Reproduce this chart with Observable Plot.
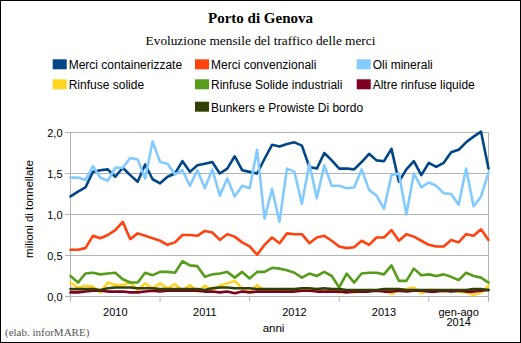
<!DOCTYPE html>
<html>
<head>
<meta charset="utf-8">
<script src="https://cdn.jsdelivr.net/npm/d3@7"></script>
<script src="https://cdn.jsdelivr.net/npm/@observablehq/plot@0.6"></script>
<style>
  body { margin: 0; background: #fff; }
  #wrap { position: relative; width: 521px; height: 343px; overflow: hidden; background: #fff; }
  #wrap > svg { position: absolute; left: 0; top: 0; }
  #border { position: absolute; left: 0; top: 0; width: 519px; height: 341px; border: 1px solid #000; pointer-events: none; }
</style>
</head>
<body>
<div id="wrap"><div id="border"></div></div>
<script>
// ---- Data (million tonnes per month, Jan 2010 .. Aug 2014 category positions) ----
const seriesNames = [
  "Merci containerizzate", "Merci convenzionali", "Oli minerali",
  "Rinfuse solide", "Rinfuse Solide industriali", "Altre rinfuse liquide",
  "Bunkers e Prowiste Di bordo"
];
const seriesColors = ["#004586", "#ff420e", "#83caff", "#ffd320", "#579d1c", "#7e0021", "#314004"];

const merciContainerizzate = [1.22,1.28,1.33,1.52,1.54,1.55,1.46,1.57,1.48,1.40,1.61,1.43,1.38,1.46,1.50,1.65,1.52,1.60,1.62,1.64,1.50,1.56,1.71,1.54,1.52,1.50,1.68,1.85,1.83,1.86,1.88,1.84,1.58,1.56,1.75,1.66,1.56,1.56,1.55,1.64,1.74,1.66,1.65,1.80,1.40,1.55,1.65,1.48,1.63,1.58,1.63,1.76,1.79,1.88,1.95,2.01,1.56];
const merciConvenzionali = [0.57,0.57,0.59,0.74,0.71,0.75,0.81,0.91,0.70,0.77,0.74,0.71,0.68,0.63,0.66,0.75,0.75,0.74,0.80,0.78,0.69,0.76,0.73,0.66,0.61,0.51,0.63,0.72,0.65,0.77,0.76,0.76,0.65,0.72,0.74,0.68,0.61,0.59,0.60,0.68,0.63,0.72,0.72,0.81,0.68,0.76,0.73,0.68,0.63,0.61,0.61,0.69,0.66,0.76,0.74,0.82,0.69];
const oliMinerali = [1.45,1.45,1.42,1.59,1.45,1.41,1.57,1.57,1.69,1.67,1.44,1.89,1.64,1.62,1.49,1.54,1.35,1.54,1.32,1.55,1.23,1.44,1.22,1.35,1.32,1.79,0.95,1.31,0.91,1.56,1.52,1.13,1.62,1.20,1.60,1.35,1.35,1.32,1.33,1.55,1.30,1.23,1.07,1.48,1.50,1.00,1.50,1.33,1.39,1.35,1.26,1.25,1.12,1.56,1.10,1.22,1.51];
const rinfuseSolide = [0.17,0.11,0.13,0.12,0.05,0.17,0.14,0.14,0.17,0.08,0.16,0.10,0.16,0.10,0.15,0.07,0.14,0.06,0.13,0.08,0.13,0.16,0.19,0.10,0.05,0.14,0.07,0.07,0.07,0.06,0.06,0.07,0.08,0.09,0.06,0.07,0.05,0.06,0.05,0.07,0.08,0.07,0.08,0.03,0.08,0.09,0.11,0.04,0.08,0.08,0.06,0.07,0.06,0.05,0.02,0.05,0.13];
const rinfuseSolideIndustriali = [0.25,0.17,0.28,0.29,0.27,0.28,0.29,0.21,0.17,0.17,0.29,0.26,0.30,0.30,0.29,0.43,0.38,0.37,0.24,0.27,0.28,0.30,0.23,0.30,0.22,0.30,0.30,0.35,0.34,0.32,0.29,0.23,0.28,0.25,0.30,0.25,0.11,0.28,0.17,0.28,0.29,0.29,0.27,0.38,0.19,0.19,0.34,0.26,0.27,0.25,0.27,0.24,0.20,0.29,0.25,0.23,0.17];
const altreRinfuseLiquide = [0.05,0.05,0.06,0.07,0.07,0.06,0.06,0.06,0.05,0.05,0.06,0.07,0.06,0.07,0.07,0.07,0.07,0.07,0.06,0.06,0.05,0.06,0.04,0.06,0.05,0.06,0.06,0.06,0.06,0.06,0.06,0.07,0.07,0.06,0.06,0.06,0.06,0.05,0.06,0.06,0.06,0.07,0.06,0.06,0.07,0.06,0.07,0.07,0.06,0.06,0.07,0.06,0.07,0.06,0.06,0.07,0.08];
const bunkers = [0.09,0.09,0.09,0.09,0.08,0.10,0.11,0.11,0.11,0.10,0.10,0.10,0.09,0.09,0.09,0.09,0.09,0.09,0.08,0.10,0.11,0.11,0.10,0.10,0.10,0.09,0.09,0.09,0.09,0.09,0.09,0.10,0.10,0.09,0.10,0.09,0.09,0.08,0.08,0.08,0.08,0.08,0.09,0.09,0.09,0.08,0.08,0.08,0.08,0.08,0.08,0.08,0.08,0.08,0.09,0.09,0.08];

const seriesValues = [merciContainerizzate, merciConvenzionali, oliMinerali, rinfuseSolide,
  rinfuseSolideIndustriali, altreRinfuseLiquide, bunkers];

const yTicks = [0, 0.5, 1, 1.5, 2];
const xTickPositions = [0, 12, 24, 36, 48, 56];     // category boundaries (years)
const xLabelPositions = [6, 18, 30, 42, 52];
const xLabels = ["2010", "2011", "2012", "2013", "gen-ago\n2014"];

const SANS = "'Liberation Sans', Arial, sans-serif";
const SERIF = "'Liberation Serif', 'Times New Roman', serif";
const GRID = "#b3b3b3";
const fmt = d => d.toFixed(1).replace(".", ",");

const lineMarks = seriesValues.map((vals, k) =>
  Plot.lineY(vals, {x: (d, i) => i, y: d => d, stroke: seriesColors[k], strokeWidth: 2.6, strokeLinejoin: "round"})
);

const chart = Plot.plot({
  width: 521, height: 343,
  marginTop: 132, marginLeft: 70, marginRight: 33, marginBottom: 47,
  style: {fontFamily: SANS, fontSize: "11px", color: "#000", background: "transparent", overflow: "visible"},
  x: {domain: [0, 56], axis: null},
  y: {domain: [0, 2], axis: null},
  marks: [
    Plot.ruleY(yTicks, {y: d => d, x1: -0.67, x2: 56, stroke: GRID, strokeWidth: 1}),
    Plot.ruleX([0, 56], {x: d => d, y1: -0.07, y2: 2, stroke: GRID, strokeWidth: 1}),
    Plot.ruleX(xTickPositions, {x: d => d, y1: -0.07, y2: 0, stroke: GRID, strokeWidth: 1}),
    ...lineMarks,
    Plot.text(yTicks, {x: 0, y: d => d, text: fmt, textAnchor: "end", dx: -8, dy: 1, fill: "#000", fontSize: 11}),
    Plot.text(xLabels, {x: (d, i) => xLabelPositions[i], y: 0, text: d => d, lineAnchor: "top", dy: 11.5, lineHeight: 0.98, fill: "#000", fontSize: 11})
  ]
});
document.getElementById("wrap").insertBefore(chart, document.getElementById("border"));

// ---- Annotation overlay: title, subtitle, legend, axis titles, caption ----
const ov = d3.select("#wrap").append("svg")
  .attr("width", 521).attr("height", 343)
  .style("position", "absolute").style("left", 0).style("top", 0).style("pointer-events", "none");

ov.append("text").attr("x", 260.5).attr("y", 22.5).attr("text-anchor", "middle")
  .style("font-family", SERIF).style("font-size", "15px").style("font-weight", "bold")
  .text("Porto di Genova");
ov.append("text").attr("x", 260.5).attr("y", 45.3).attr("text-anchor", "middle")
  .style("font-family", SERIF).style("font-size", "13.3px")
  .text("Evoluzione mensile del traffico delle merci");

const legendCols = [52.7, 195, 356.7];
const legendRows = [59.3, 79.3, 101.7];
const legendCell = [[0,0],[1,0],[2,0],[0,1],[1,1],[2,1],[1,2]];
seriesNames.forEach((name, k) => {
  const [c, r] = legendCell[k];
  const g = ov.append("g").attr("transform", `translate(${legendCols[c]},${legendRows[r]})`);
  g.append("rect").attr("width", 14).attr("height", 10).attr("fill", seriesColors[k]);
  g.append("text").attr("x", 16).attr("y", 9.8)
    .style("font-family", SANS).style("font-size", "12px").text(name);
});

ov.append("text").attr("transform", "translate(33.3,209) rotate(-90)").attr("text-anchor", "middle")
  .style("font-family", SANS).style("font-size", "11.5px").text("milioni di tonnellate");
ov.append("text").attr("x", 273.5).attr("y", 331.5).attr("text-anchor", "middle")
  .style("font-family", SANS).style("font-size", "11.5px").text("anni");
ov.append("text").attr("x", 5).attr("y", 335.5)
  .style("font-family", SERIF).style("font-size", "11px").attr("fill", "#555")
  .text("(elab. inforMARE)");
</script>
</body>
</html>
